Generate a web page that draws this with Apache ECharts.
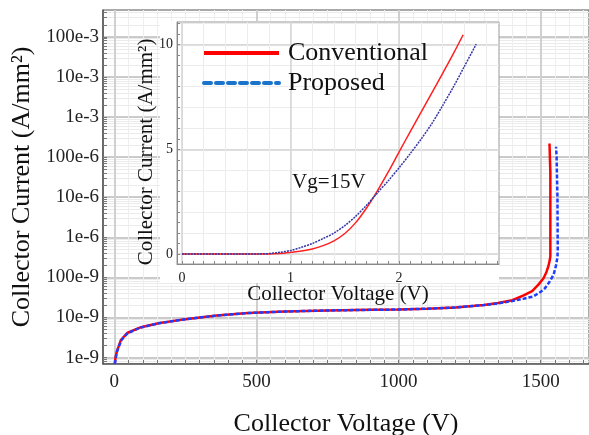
<!DOCTYPE html>
<html>
<head>
<meta charset="utf-8">
<script src="https://cdn.jsdelivr.net/npm/echarts@6/dist/echarts.min.js"></script>
<style>
html,body{margin:0;padding:0;background:#fff;}
#chart{width:589px;height:435px;}
</style>
</head>
<body>
<div id="chart"></div>
<script>
// main plot: breakdown curves (V, A/mm2)
var convMainV = [1, 4, 9, 15, 23, 45, 90, 155, 250, 360, 470, 600, 750, 900, 1000, 1100, 1200, 1300, 1350, 1400, 1440, 1470, 1492, 1510, 1520, 1527, 1532, 1534, 1534, 1531, 1531];
var convMainI = [0.7e-9, 1.0e-9, 1.45e-9, 1.9e-9, 2.75e-9, 4.1e-9, 5.6e-9, 7.2e-9, 9.1e-9, 11.2e-9, 12.9e-9, 14.1e-9, 15.0e-9, 15.5e-9, 15.8e-9, 16.6e-9, 17.8e-9, 20.4e-9, 22.9e-9, 26.9e-9, 35.5e-9, 45.7e-9, 66e-9, 95e-9, 135e-9, 190e-9, 270e-9, 340e-9, 41.7e-6, 41.7e-6, 219e-6];
var propMainV = [2, 5, 10, 16, 25, 47, 92, 157, 252, 362, 472, 600, 750, 900, 1000, 1100, 1200, 1300, 1350, 1400, 1440, 1474, 1500, 1515, 1530, 1540, 1547, 1554, 1559, 1560, 1559, 1556, 1554];
var propMainI = [0.7e-9, 1.0e-9, 1.45e-9, 1.9e-9, 2.75e-9, 4.1e-9, 5.6e-9, 7.2e-9, 9.1e-9, 11.2e-9, 12.9e-9, 14.1e-9, 15.0e-9, 15.5e-9, 15.8e-9, 16.6e-9, 17.8e-9, 20.4e-9, 22.5e-9, 25.7e-9, 29.5e-9, 33.5e-9, 43.6e-9, 53.7e-9, 75.9e-9, 100e-9, 129e-9, 200e-9, 316e-9, 500e-9, 10e-6, 100e-6, 182e-6];

// inset: on-state curves at Vg=15V
var convInsetV = [0, 0.5, 0.8, 0.9, 1.0, 1.1, 1.2, 1.3, 1.4, 1.5, 1.6, 1.7, 1.8, 1.9, 2.0, 2.1, 2.2, 2.3, 2.4, 2.5, 2.59];
var convInsetI = [0, 0, 0.005, 0.03, 0.08, 0.14, 0.24, 0.4, 0.63, 0.98, 1.5, 2.2, 3.02, 3.92, 4.88, 5.82, 6.75, 7.68, 8.62, 9.57, 10.47];
var propInsetV = [0, 0.5, 0.7, 0.8, 0.9, 1.0, 1.1, 1.2, 1.3, 1.4, 1.5, 1.6, 1.7, 1.8, 1.9, 2.0, 2.1, 2.2, 2.3, 2.4, 2.5, 2.6, 2.71];
var propInsetI = [0, 0, 0.005, 0.02, 0.08, 0.17, 0.32, 0.5, 0.74, 1.0, 1.36, 1.8, 2.33, 2.92, 3.5, 4.12, 4.78, 5.47, 6.22, 7.08, 7.98, 8.95, 10.02];

// ticks
var mainXLabels = [0, 500, 1000, 1500];
var mainYExp = [-9, -8, -7, -6, -5, -4, -3, -2, -1];
var mainYLabels = ['1e-9', '10e-9', '100e-9', '1e-6', '10e-6', '100e-6', '1e-3', '10e-3', '100e-3'];
var insetXLabels = [0, 1, 2];
var insetYLabels = [0, 5, 10];

var FONT = 'Liberation Serif';

function steps(from, to, step){
	var out = [];
	for (var i = 0; from + i * step <= to + 1e-9; i++) {
		out.push(Math.round((from + i * step) * 1000) / 1000);
	}
	return out;
}
var mainXMinor = steps(0, 1650, 50);
var mainYMinor = [];
for (var n = -10; n <= -1; n++) {
	for (var k = 1; k <= 9; k++) {
		mainYMinor.push(n + Math.log10(k));
	}
}
var insetXTicks = steps(0, 2.9, 0.1);
var insetXGrid = steps(0, 2.8, 0.2);
var insetYTicks = steps(0, 11, 0.5);
var insetYGrid = steps(0, 11, 1);

function logPairs(xs, ys){
	return xs.map(function(v, i){ return [v, Math.log10(ys[i])]; });
}
function pairs(xs, ys){
	return xs.map(function(v, i){ return [v, ys[i]]; });
}
function plain(v){
	return String(v);
}

var noLine = {show: false};
var chart = echarts.init(document.getElementById('chart'));
var option = {
	animation: false,
	grid: [
		{left: 103, top: 10, right: 0, bottom: 71, show: true, borderColor: '#555', borderWidth: 1, outerBoundsMode: 'none'},
		{left: 177, top: 22, right: 90, bottom: 171, show: true, borderColor: '#999', borderWidth: 1, z: 3, outerBoundsMode: 'none'}
	],
	legend: {
		orient: 'vertical',
		left: 197,
		top: 35,
		itemWidth: 75,
		itemHeight: 14,
		itemGap: 4,
		z: 6,
		textStyle: {fontFamily: FONT, fontSize: 26, color: '#111', padding: [0, 0, 0, 4]},
		data: [
			{name: 'Conventional', itemStyle: {opacity: 0}, lineStyle: {color: '#ff0000', width: 4, type: 'solid'}},
			{name: 'Proposed', itemStyle: {opacity: 0}, lineStyle: {color: '#1b74cc', width: 4, type: [7, 5], cap: 'round'}}
		]
	},
	graphic: [
		{type: 'rect', z: 1, shape: {x: 160, y: 21, width: 339, height: 262}, style: {fill: '#fff'}},
		{type: 'text', z: 6, left: 292, top: 172, style: {text: 'Vg=15V', font: '21px "Liberation Serif"', fill: '#111'}}
	],
	xAxis: [
		{
			gridIndex: 0, type: 'value', min: -40, max: 1670,
			name: 'Collector Voltage (V)', nameLocation: 'middle', nameGap: 47,
			nameTextStyle: {fontFamily: FONT, fontSize: 26, color: '#111'},
			axisLine: {onZero: false, lineStyle: {color: '#555', width: 1.5}},
			axisTick: {inside: true, length: 4, customValues: mainXMinor, lineStyle: {color: '#777'}},
			axisLabel: {customValues: mainXLabels, formatter: plain, fontFamily: FONT, fontSize: 19, color: '#222', margin: 9},
			splitLine: {show: true, lineStyle: {color: '#eeeeee', width: 1}}
		},
		{
			gridIndex: 0, type: 'value', min: -40, max: 1670,
			axisLine: noLine, axisLabel: {show: false},
			axisTick: {show: false, customValues: mainXLabels},
			splitLine: {show: true, lineStyle: {color: '#d0d0d0', width: 2}}
		},
		{
			gridIndex: 1, type: 'value', min: -0.046, max: 2.92, z: 4,
			name: 'Collector Voltage (V)', nameLocation: 'middle', nameGap: 20, nameMoveOverlap: false,
			nameTextStyle: {fontFamily: FONT, fontSize: 21, color: '#111'},
			axisLine: {onZero: false, lineStyle: {color: '#888', width: 1}},
			axisTick: {inside: true, length: 3, customValues: insetXTicks, lineStyle: {color: '#888'}},
			axisLabel: {customValues: insetXLabels, formatter: plain, fontFamily: FONT, fontSize: 14, color: '#222', margin: 7},
			splitLine: {show: false}
		},
		{
			gridIndex: 1, type: 'value', min: -0.046, max: 2.92, z: 3,
			axisLine: noLine, axisLabel: {show: false},
			axisTick: {show: false, customValues: insetXGrid},
			splitLine: {show: true, lineStyle: {color: '#ececec', width: 1}}
		},
		{
			gridIndex: 1, type: 'value', min: -0.046, max: 2.92, z: 3,
			axisLine: noLine, axisLabel: {show: false},
			axisTick: {show: false, customValues: insetXLabels},
			splitLine: {show: true, lineStyle: {color: '#d4d4d4', width: 1.5}}
		}
	],
	yAxis: [
		{
			gridIndex: 0, type: 'value', min: -9.16, max: -0.33,
			name: 'Collector Current (A/mm²)', nameLocation: 'middle', nameGap: 66,
			nameTextStyle: {fontFamily: FONT, fontSize: 26, color: '#111'},
			axisLine: {onZero: false, lineStyle: {color: '#555', width: 1.5}},
			axisTick: {inside: true, length: 4, customValues: mainYMinor, lineStyle: {color: '#777'}},
			axisLabel: {
				customValues: mainYExp, fontFamily: FONT, fontSize: 19, color: '#222', margin: 4,
				formatter: function(v){ return mainYLabels[Math.round(v) + 9]; }
			},
			splitLine: {show: true, lineStyle: {color: '#ebebeb', width: 1}}
		},
		{
			gridIndex: 0, type: 'value', min: -9.16, max: -0.33,
			axisLine: noLine, axisLabel: {show: false},
			axisTick: {show: false, customValues: mainYExp},
			splitLine: {show: true, lineStyle: {color: '#bdbdbd', width: 1.5}}
		},
		{
			gridIndex: 1, type: 'value', min: -0.476, max: 11.08, z: 4,
			name: 'Collector Current (A/mm²)', nameLocation: 'middle', nameGap: 20, nameMoveOverlap: false,
			nameTextStyle: {fontFamily: FONT, fontSize: 21, color: '#111', padding: [0, 18, 0, 0]},
			axisLine: {onZero: false, lineStyle: {color: '#888', width: 1}},
			axisTick: {inside: true, length: 3, customValues: insetYTicks, lineStyle: {color: '#888'}},
			axisLabel: {customValues: insetYLabels, formatter: plain, fontFamily: FONT, fontSize: 14, color: '#222', margin: 4},
			splitLine: {show: false}
		},
		{
			gridIndex: 1, type: 'value', min: -0.476, max: 11.08, z: 3,
			axisLine: noLine, axisLabel: {show: false},
			axisTick: {show: false, customValues: insetYGrid},
			splitLine: {show: true, lineStyle: {color: '#ececec', width: 1}}
		},
		{
			gridIndex: 1, type: 'value', min: -0.476, max: 11.08, z: 3,
			axisLine: noLine, axisLabel: {show: false},
			axisTick: {show: false, customValues: insetYLabels},
			splitLine: {show: true, lineStyle: {color: '#d4d4d4', width: 1.5}}
		}
	],
	series: [
		{
			name: 'Conventional', type: 'line', xAxisIndex: 0, yAxisIndex: 0, symbol: 'none',
			data: logPairs(convMainV, convMainI),
			itemStyle: {color: '#ff0000'},
			lineStyle: {color: '#ff0000', width: 2.5}
		},
		{
			name: 'Proposed', type: 'line', xAxisIndex: 0, yAxisIndex: 0, symbol: 'none',
			data: logPairs(propMainV, propMainI),
			itemStyle: {color: '#1f3dff'},
			lineStyle: {color: '#1f3dff', width: 2.5, type: [4, 2]}
		},
		{
			name: 'Conventional', type: 'line', xAxisIndex: 2, yAxisIndex: 2, symbol: 'none', smooth: 0.3, z: 5,
			data: pairs(convInsetV, convInsetI),
			itemStyle: {color: '#ff2020'},
			lineStyle: {color: '#ff2020', width: 1.5}
		},
		{
			name: 'Proposed', type: 'line', xAxisIndex: 2, yAxisIndex: 2, symbol: 'none', smooth: 0.3, z: 5,
			data: pairs(propInsetV, propInsetI),
			itemStyle: {color: '#3535a5'},
			lineStyle: {color: '#3535a5', width: 1.5, type: [2, 1]}
		}
	]
};
chart.setOption(option);
</script>
</body>
</html>
